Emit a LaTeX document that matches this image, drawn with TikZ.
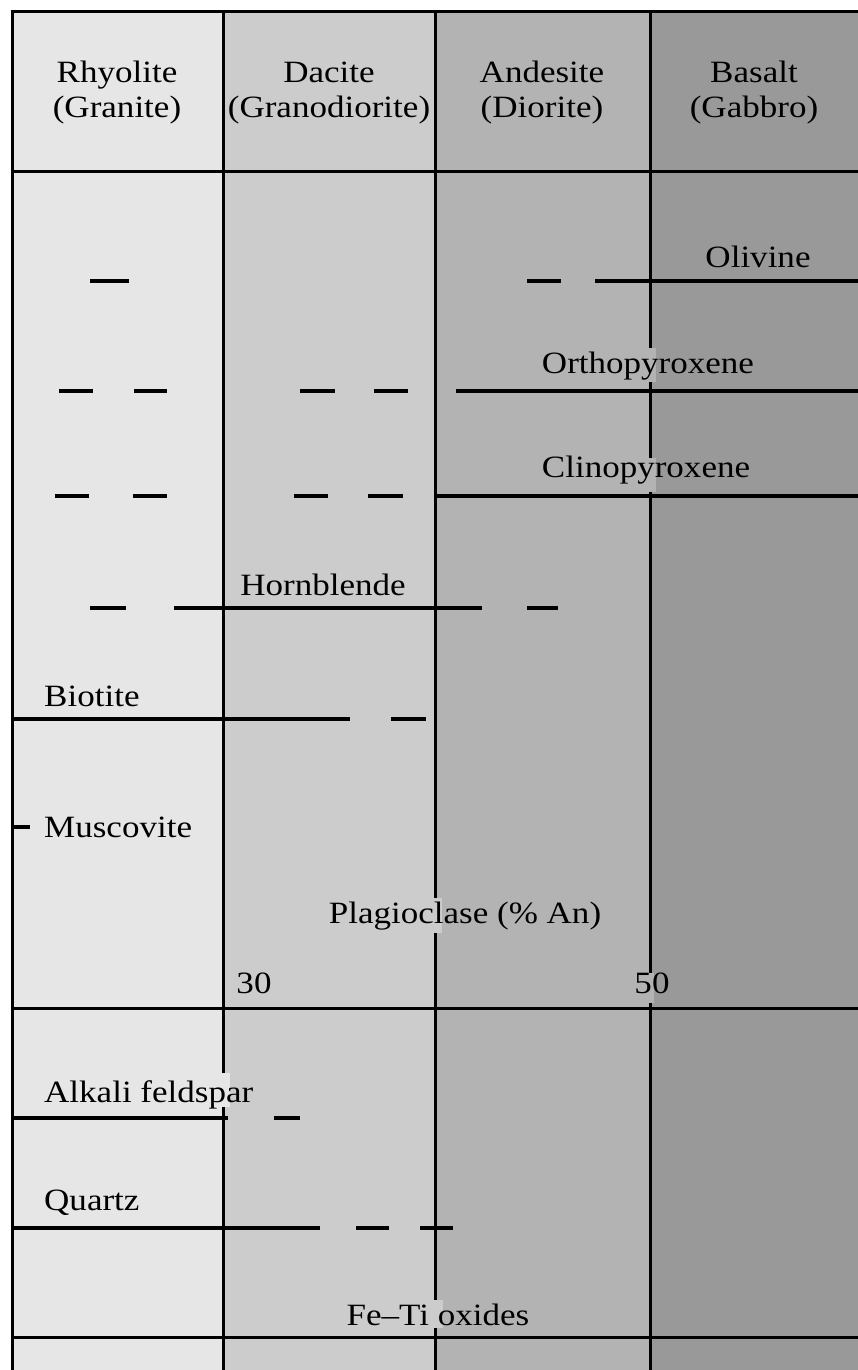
\documentclass[tikz,border=0pt]{standalone}
\usepackage{fontspec}
\setmainfont{Liberation Serif}[FakeStretch=1.13]
\definecolor{cA}{HTML}{E6E6E6}
\definecolor{cB}{HTML}{CCCCCC}
\definecolor{cC}{HTML}{B3B3B3}
\definecolor{cD}{HTML}{999999}
\begin{document}
\begin{tikzpicture}[x=1pt,y=-1pt,
  gridline/.style={line width=3pt},
  minline/.style={line width=3.2pt},
  lab/.style={anchor=base, inner sep=0pt, font=\fontsize{31}{36}\selectfont},
  labw/.style={lab, anchor=base west}]
\useasboundingbox (0,0) rectangle (858,1370);
\fill[white] (0,0) rectangle (858,1370);
% columns
\fill[cA] (12,12) rectangle (223,1370);
\fill[cB] (223,12) rectangle (435,1370);
\fill[cC] (435,12) rectangle (650,1370);
\fill[cD] (650,12) rectangle (858,1370);
% grid
\foreach \y in {12,171,1008,1337} \draw[gridline] (10.5,\y) -- (858,\y);
\foreach \x in {12,223,435,650} \draw[gridline] (\x,10.5) -- (\x,1370);
% label backgrounds covering dividers
\fill[cC] (646,348) rectangle (656,382);
\fill[cC] (646,458) rectangle (656,492);
\fill[cB] (432,898) rectangle (442,933);
\fill[cC] (647,973) rectangle (654,1003);
\fill[cA] (221,1073) rectangle (230,1107);
\fill[cB] (428,1300) rectangle (443,1328);
% header
\node[lab] (rh1) at (117,83) {Rhyolite};
\node[lab] (rh2) at (117,118) {(Granite)};
\node[lab] (da1) at (329,83) {Dacite};
\node[lab] (da2) at (329,118) {(Granodiorite)};
\node[lab] (an1) at (542,83) {Andesite};
\node[lab] (an2) at (542,118) {(Diorite)};
\node[lab] (ba1) at (754,83) {Basalt};
\node[lab] (ba2) at (754,118) {(Gabbro)};
% Olivine
\node[lab] (ol) at (758,267) {Olivine};
\draw[minline] (90,281) -- (129,281);
\draw[minline] (527,281) -- (561,281);
\draw[minline] (595,281) -- (858,281);
% Orthopyroxene
\node[lab] (opx) at (648,373) {Orthopyroxene};
\draw[minline] (59,391) -- (93,391);
\draw[minline] (134,391) -- (167,391);
\draw[minline] (300,391) -- (335,391);
\draw[minline] (374,391) -- (408,391);
\draw[minline] (456,391) -- (858,391);
% Clinopyroxene
\node[lab] (cpx) at (646,477) {Clinopyroxene};
\draw[minline] (55,496) -- (89,496);
\draw[minline] (133,496) -- (167,496);
\draw[minline] (294,496) -- (328,496);
\draw[minline] (368,496) -- (403,496);
\draw[minline] (435,496) -- (858,496);
% Hornblende
\node[lab] (hb) at (323,595) {Hornblende};
\draw[minline] (90,608) -- (126,608);
\draw[minline] (174,608) -- (482,608);
\draw[minline] (527,608) -- (558,608);
% Biotite
\node[labw] (bt) at (44,706) {Biotite};
\draw[minline] (12,719) -- (350,719);
\draw[minline] (391,719) -- (426,719);
% Muscovite
\node[labw] (ms) at (44,837) {Muscovite};
\draw[minline] (12,827) -- (30,827);
% Plagioclase
\node[lab] (pl) at (465,923) {Plagioclase (\% An)};
\node[lab] (p30) at (254,993) {30};
\node[lab] (p50) at (652,993) {50};
% Alkali feldspar
\node[labw] (af) at (44,1102) {Alkali feldspar};
\draw[minline] (12,1118) -- (228,1118);
\draw[minline] (274,1118) -- (300,1118);
% Quartz
\node[labw] (qz) at (44,1210) {Quartz};
\draw[minline] (12,1228) -- (320,1228);
\draw[minline] (356,1228) -- (389,1228);
\draw[minline] (420,1228) -- (453,1228);
% Fe-Ti oxides
\node[lab] (fti) at (438,1325) {Fe--Ti oxides};
\end{tikzpicture}
\end{document}
